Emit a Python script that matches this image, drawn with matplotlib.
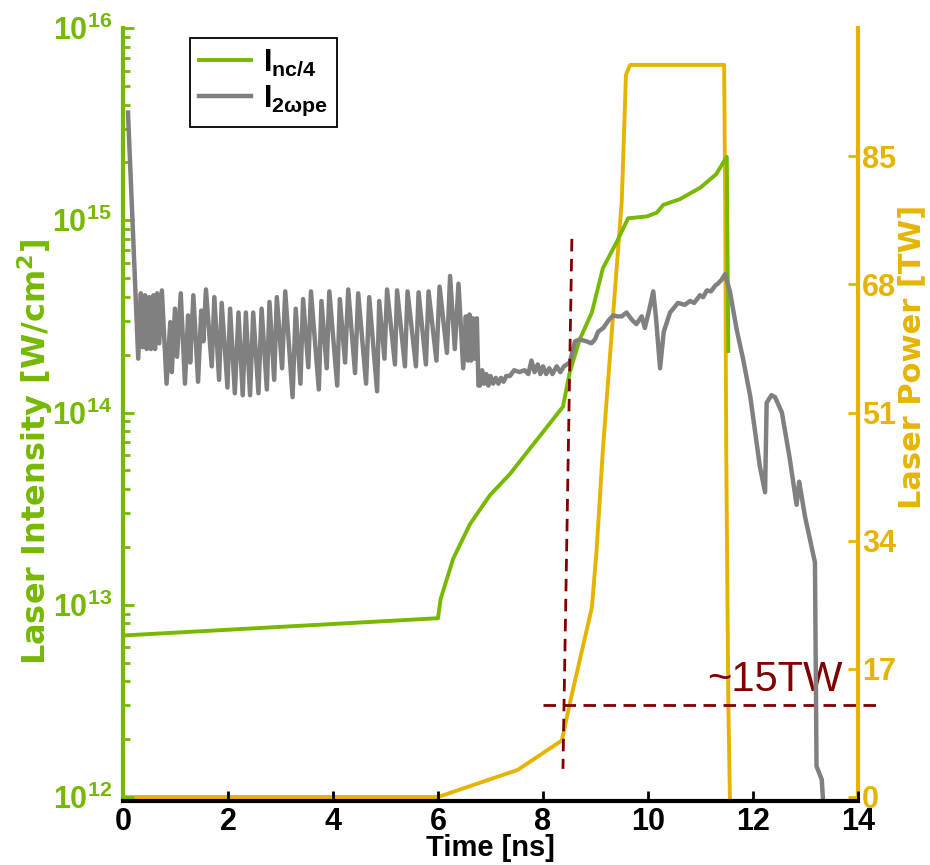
import numpy as np
import matplotlib
matplotlib.use("Agg")
import matplotlib.pyplot as plt

# colours
GREEN = '#76B900'
GOLD = '#E6B400'
GRAY = '#808080'
DARKRED = '#800000'

# I_nc/4 threshold, log10(W/cm^2)
green_t = [0, 6.0, 6.05, 6.29, 6.61, 6.99, 7.37, 7.6, 8.38, 8.51, 8.70, 8.93, 9.14,
           9.41, 9.62, 9.98, 10.17, 10.29, 10.61, 11.0, 11.3, 11.5, 11.53]
green_log = [12.84, 12.93, 13.03, 13.24, 13.42, 13.57, 13.68, 13.76, 14.03, 14.21, 14.38,
             14.52, 14.75, 14.89, 15.01, 15.02, 15.04, 15.08, 15.11, 15.17, 15.24, 15.33, 14.32]

# I_2wpe threshold, log10(W/cm^2)
gray_t = [0.095, 0.29, 0.34, 0.375, 0.42, 0.45, 0.50, 0.53, 0.58, 0.61, 0.65, 0.69, 0.74,
          0.83, 0.90, 0.93, 0.99, 1.03, 1.10, 1.18, 1.24, 1.28, 1.34, 1.43, 1.49, 1.53,
          1.58, 1.69, 1.74, 1.83, 1.88, 1.99, 2.04, 2.13, 2.20, 2.28, 2.34, 2.42, 2.48,
          2.58, 2.64, 2.74, 2.79, 2.88, 2.93, 3.03, 3.09, 3.23, 3.29, 3.38, 3.43, 3.53,
          3.58, 3.73, 3.78, 3.88, 3.93, 4.08, 4.13, 4.23, 4.29, 4.42, 4.48, 4.63, 4.69,
          4.84, 4.88, 4.98, 5.03, 5.18, 5.22, 5.37, 5.42, 5.58, 5.63, 5.77, 5.82, 5.97,
          6.03, 6.17, 6.23, 6.32, 6.39, 6.48, 6.53, 6.57, 6.60, 6.63, 6.67, 6.70, 6.74,
          6.77, 6.80, 6.84, 6.88, 6.92, 6.96, 7.00, 7.05, 7.10, 7.15, 7.20, 7.25, 7.30,
          7.37, 7.45, 7.55, 7.65, 7.72, 7.78, 7.84, 7.90, 7.95, 8.00, 8.06, 8.12, 8.18,
          8.26, 8.33, 8.40, 8.51, 8.61, 8.70, 8.83, 8.92, 8.99, 9.05, 9.15, 9.25, 9.34,
          9.42, 9.50, 9.59, 9.70, 9.78, 9.88, 9.94, 10.02, 10.10, 10.15, 10.23, 10.30,
          10.42, 10.57, 10.70, 10.80, 10.88, 10.99, 11.05, 11.12, 11.20, 11.28, 11.33,
          11.40, 11.47, 11.56, 11.69, 11.81, 11.95, 12.13, 12.23, 12.26, 12.35, 12.42,
          12.55, 12.70, 12.83, 12.88, 12.99, 13.18, 13.21, 13.31, 13.33]
gray_log = [15.56, 14.28, 14.62, 14.34, 14.61, 14.33, 14.60, 14.33, 14.61, 14.33, 14.62, 14.36, 14.635,
            14.15, 14.47, 14.21, 14.54, 14.29, 14.62, 14.15, 14.505, 14.26, 14.61, 14.16, 14.53, 14.37,
            14.64, 14.24, 14.60, 14.17, 14.57, 14.13, 14.54, 14.10, 14.52, 14.09, 14.52, 14.09, 14.52,
            14.10, 14.54, 14.12, 14.575, 14.17, 14.60, 14.23, 14.63, 14.08, 14.54, 14.15, 14.59, 14.235,
            14.63, 14.12, 14.58, 14.23, 14.63, 14.14, 14.59, 14.26, 14.64, 14.205, 14.62, 14.15, 14.60,
            14.11, 14.58, 14.28, 14.64, 14.25, 14.635, 14.24, 14.63, 14.24, 14.625, 14.25, 14.63, 14.27,
            14.655, 14.31, 14.71, 14.33, 14.67, 14.23, 14.50, 14.27, 14.51, 14.27, 14.49, 14.28, 14.49,
            14.14, 14.14, 14.22, 14.15, 14.20, 14.14, 14.19, 14.15, 14.18, 14.15, 14.18, 14.16, 14.19,
            14.19, 14.22, 14.21, 14.22, 14.20, 14.27, 14.21, 14.25, 14.20, 14.24, 14.20, 14.23, 14.20,
            14.24, 14.21, 14.24, 14.26, 14.37, 14.38, 14.37, 14.36, 14.38, 14.42, 14.44, 14.48, 14.505,
            14.50, 14.50, 14.52, 14.48, 14.46, 14.50, 14.44, 14.53, 14.63, 14.50, 14.23, 14.42,
            14.52, 14.57, 14.56, 14.58, 14.57, 14.61, 14.60, 14.635, 14.63, 14.66, 14.67,
            14.69, 14.72, 14.63, 14.43, 14.28, 14.08, 13.72, 13.585, 14.05, 14.09, 14.08,
            14.00, 13.76, 13.52, 13.64, 13.46, 13.22, 12.16, 12.09, 12.0]

# laser power [TW]
power_t = [0, 6.0, 7.52, 8.36, 8.51, 8.93, 9.02, 9.14, 9.33, 9.50, 9.58, 9.66, 11.45, 11.47, 11.49, 11.53, 11.56]
power_tw = [0, 0, 3.6, 7.5, 12.4, 25.1, 32.6, 46, 63.5, 79, 95.8, 97.1, 97.1, 79, 46, 12.4, 0]

# marker lines
vline_t = [8.55, 8.38]
vline_I = [8e14, 1.4e12]
hline_t = [8.0, 14.48]
hline_tw = [12.2, 12.2]

xticks = [0, 2, 4, 6, 8, 10, 12, 14]
power_ticks = [0, 17, 34, 51, 68, 85]

plt.rcParams['font.family'] = ['Liberation Sans', 'DejaVu Sans']
plt.rcParams['font.weight'] = 'bold'
plt.rcParams['axes.labelweight'] = 'bold'
plt.rcParams['mathtext.fontset'] = 'custom'
plt.rcParams['mathtext.rm'] = 'Liberation Sans:bold'
plt.rcParams['mathtext.bf'] = 'Liberation Sans:bold'
plt.rcParams['mathtext.it'] = 'Liberation Sans:bold'
plt.rcParams['mathtext.default'] = 'regular'

fig = plt.figure(figsize=(9.3, 8.65), dpi=100)
ax = fig.add_axes([123 / 930, 68 / 865, 735 / 930, 769 / 865])
ax2 = ax.twinx()
ax.set_zorder(ax2.get_zorder() + 1)
ax.patch.set_visible(False)

# power on the right axis
ax2.plot(power_t, power_tw, color=GOLD, lw=2.8, clip_on=False, solid_joinstyle='round')
ax2.plot(hline_t, hline_tw, color=DARKRED, lw=2.0, dashes=(4.5, 2.7), clip_on=False)
ax2.text(11.12, 14.0, '~15TW', color=DARKRED, fontsize=30, fontweight='normal',
         ha='left', va='baseline')

# thresholds on the left axis
ax.plot(green_t, 10 ** np.array(green_log), color=GREEN, lw=2.8, label=r'$\mathbf{I_{nc/4}}$')
ax.plot(gray_t, 10 ** np.array(gray_log), color=GRAY, lw=3.2, label=r'$\mathbf{I_{2ωpe}}$', clip_on=False)
ax.plot(vline_t, vline_I, color=DARKRED, lw=2.0, dashes=(4.5, 2.7))

ax.set_yscale('log')
ax.set_ylim(1e12, 1e16)
ax.set_xlim(0, 14)
ax.set_xticks(xticks)
ax2.set_ylim(0, 102)
ax2.set_yticks(power_ticks)

for s in ['top', 'right']:
    ax.spines[s].set_visible(False)
for s in ['top', 'left', 'bottom']:
    ax2.spines[s].set_visible(False)
ax.spines['left'].set_color(GREEN)
ax.spines['left'].set_linewidth(3)
ax.spines['bottom'].set_color('black')
ax.spines['bottom'].set_linewidth(3)
ax.spines['bottom'].set_position(('outward', 3))
ax2.spines['right'].set_color(GOLD)
ax2.spines['right'].set_linewidth(3)

ax.tick_params(axis='x', direction='in', length=7, width=2, colors='black', labelsize=22, pad=4)
ax.tick_params(axis='y', which='major', direction='in', length=8, width=2, colors=GREEN,
               labelsize=22, pad=8)
ax.tick_params(axis='y', which='minor', direction='in', length=5, width=2, colors=GREEN)
ax2.tick_params(axis='y', direction='in', length=7, width=2, colors=GOLD, labelsize=22, pad=3)

ax.set_xlabel('Time [ns]', fontsize=21, labelpad=-2)
ax.set_ylabel(r'Laser Intensity [W/cm$^2$]', fontsize=23, color=GREEN, family='DejaVu Sans')
ax.yaxis.set_label_coords(-0.092, 0.449)
ax2.set_ylabel('Laser Power [TW]', fontsize=22, color=GOLD, family='DejaVu Sans')
ax2.yaxis.set_label_coords(1.054, 0.572)

leg = ax.legend(loc='upper left', bbox_to_anchor=(0.091, 0.987), borderaxespad=0,
                fontsize=22, handlelength=1.7, fancybox=False, framealpha=1,
                borderpad=0.3, labelspacing=0.2, handletextpad=0.4)
leg.get_frame().set_edgecolor('black')
leg.get_frame().set_linewidth(1.3)

fig.savefig('out.png', dpi=100)
